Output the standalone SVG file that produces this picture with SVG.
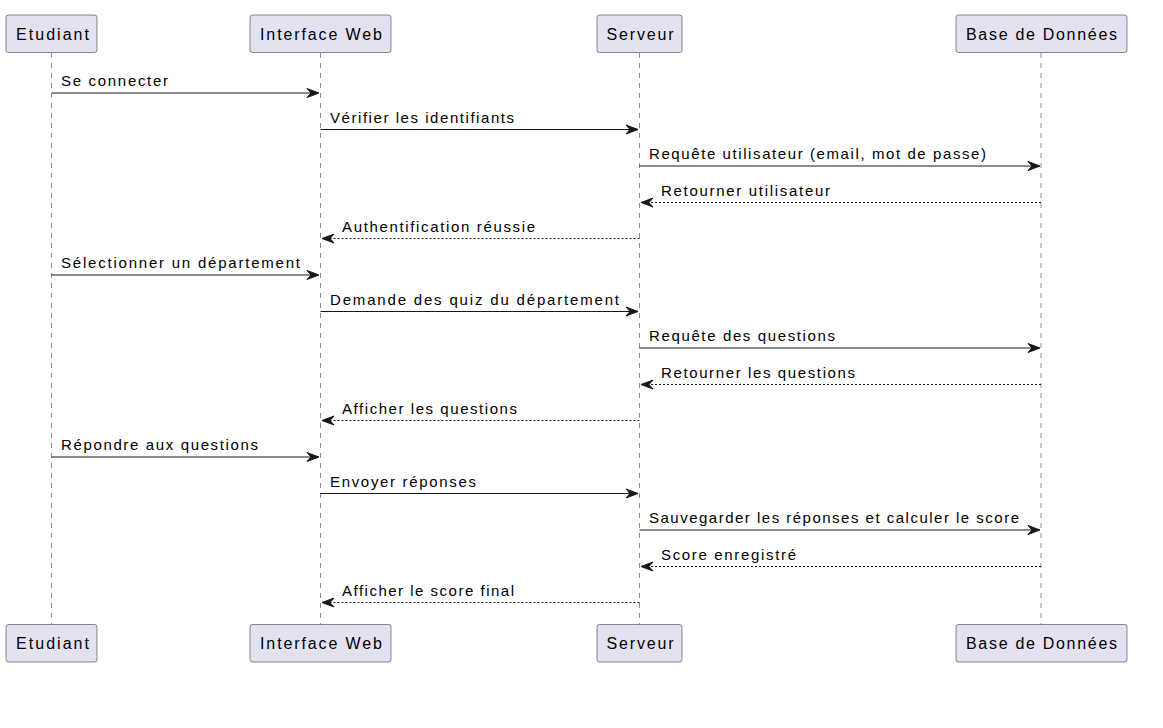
<svg xmlns="http://www.w3.org/2000/svg" width="1163" height="728" viewBox="0 0 1163 728">
<style>
.bg{fill:#FFFFFF}
.life{stroke:#181818;stroke-width:0.5;stroke-dasharray:5,5;fill:none}
.pbox{fill:#E2E2F0;stroke:#181818;stroke-width:0.5}
.ptxt{font-family:"Liberation Sans",Arial,sans-serif;font-size:16px;fill:#000000}
.msg{stroke:#181818;stroke-width:1.2;fill:none}
.ret{stroke:#181818;stroke-width:1.2;stroke-dasharray:2,2;fill:none}
.head{fill:#181818;stroke:#181818;stroke-width:1}
.mtxt{font-family:"Liberation Sans",Arial,sans-serif;font-size:15px;fill:#000000}
</style>
<rect class="bg" x="0" y="0" width="1163" height="728"/>
<g id="lifelines">
<line class="life" x1="51.5" y1="53" x2="51.5" y2="625"/>
<line class="life" x1="320.5" y1="53" x2="320.5" y2="625"/>
<line class="life" x1="639.5" y1="53" x2="639.5" y2="625"/>
<line class="life" x1="1041" y1="53" x2="1041" y2="625"/>
</g>
<g id="etudiant">
<rect class="pbox" x="6" y="15" width="91" height="37.5" rx="2.5"/>
<text class="ptxt" x="16" y="39.5" textLength="73" lengthAdjust="spacing">Etudiant</text>
<rect class="pbox" x="6" y="624.5" width="91" height="37.5" rx="2.5"/>
<text class="ptxt" x="16" y="649" textLength="73" lengthAdjust="spacing">Etudiant</text>
</g>
<g id="interface">
<rect class="pbox" x="250" y="15" width="141" height="37.5" rx="2.5"/>
<text class="ptxt" x="260" y="39.5" textLength="122" lengthAdjust="spacing">Interface Web</text>
<rect class="pbox" x="250" y="624.5" width="141" height="37.5" rx="2.5"/>
<text class="ptxt" x="260" y="649" textLength="122" lengthAdjust="spacing">Interface Web</text>
</g>
<g id="serveur">
<rect class="pbox" x="597" y="15" width="85" height="37.5" rx="2.5"/>
<text class="ptxt" x="606.5" y="39.5" textLength="67" lengthAdjust="spacing">Serveur</text>
<rect class="pbox" x="597" y="624.5" width="85" height="37.5" rx="2.5"/>
<text class="ptxt" x="606.5" y="649" textLength="67" lengthAdjust="spacing">Serveur</text>
</g>
<g id="bdd">
<rect class="pbox" x="956" y="15" width="171" height="37.5" rx="2.5"/>
<text class="ptxt" x="966" y="39.5" textLength="151" lengthAdjust="spacing">Base de Données</text>
<rect class="pbox" x="956" y="624.5" width="171" height="37.5" rx="2.5"/>
<text class="ptxt" x="966" y="649" textLength="151" lengthAdjust="spacing">Base de Données</text>
</g>
<g id="connectors">
<line class="msg" x1="51.5" y1="93" x2="316" y2="93"/>
<polygon class="head" points="307,88.5 319,93 307,97.5 311,93"/>
<text class="mtxt" x="61" y="86" textLength="107" lengthAdjust="spacing">Se connecter</text>
<line class="msg" x1="320.5" y1="129.5" x2="635" y2="129.5"/>
<polygon class="head" points="626,125 638,129.5 626,134 630,129.5"/>
<text class="mtxt" x="330" y="122.5" textLength="184" lengthAdjust="spacing">Vérifier les identifiants</text>
<line class="msg" x1="639.5" y1="166" x2="1037" y2="166"/>
<polygon class="head" points="1028,161.5 1040,166 1028,170.5 1032,166"/>
<text class="mtxt" x="649" y="159" textLength="337" lengthAdjust="spacing">Requête utilisateur (email, mot de passe)</text>
<line class="ret" x1="1041" y1="202.5" x2="644" y2="202.5"/>
<polygon class="head" points="653,198 641,202.5 653,207 649,202.5"/>
<text class="mtxt" x="661" y="195.5" textLength="169" lengthAdjust="spacing">Retourner utilisateur</text>
<line class="ret" x1="639.5" y1="238.5" x2="325" y2="238.5"/>
<polygon class="head" points="334,234 322,238.5 334,243 330,238.5"/>
<text class="mtxt" x="342" y="231.5" textLength="193" lengthAdjust="spacing">Authentification réussie</text>
<line class="msg" x1="51.5" y1="275" x2="316" y2="275"/>
<polygon class="head" points="307,270.5 319,275 307,279.5 311,275"/>
<text class="mtxt" x="61" y="268" textLength="239" lengthAdjust="spacing">Sélectionner un département</text>
<line class="msg" x1="320.5" y1="311.5" x2="635" y2="311.5"/>
<polygon class="head" points="626,307 638,311.5 626,316 630,311.5"/>
<text class="mtxt" x="330" y="304.5" textLength="289" lengthAdjust="spacing">Demande des quiz du département</text>
<line class="msg" x1="639.5" y1="348" x2="1037" y2="348"/>
<polygon class="head" points="1028,343.5 1040,348 1028,352.5 1032,348"/>
<text class="mtxt" x="649" y="341" textLength="186" lengthAdjust="spacing">Requête des questions</text>
<line class="ret" x1="1041" y1="384.5" x2="644" y2="384.5"/>
<polygon class="head" points="653,380 641,384.5 653,389 649,384.5"/>
<text class="mtxt" x="661" y="377.5" textLength="194" lengthAdjust="spacing">Retourner les questions</text>
<line class="ret" x1="639.5" y1="420.5" x2="325" y2="420.5"/>
<polygon class="head" points="334,416 322,420.5 334,425 330,420.5"/>
<text class="mtxt" x="342" y="413.5" textLength="175" lengthAdjust="spacing">Afficher les questions</text>
<line class="msg" x1="51.5" y1="457" x2="316" y2="457"/>
<polygon class="head" points="307,452.5 319,457 307,461.5 311,457"/>
<text class="mtxt" x="61" y="450" textLength="197" lengthAdjust="spacing">Répondre aux questions</text>
<line class="msg" x1="320.5" y1="493.5" x2="635" y2="493.5"/>
<polygon class="head" points="626,489 638,493.5 626,498 630,493.5"/>
<text class="mtxt" x="330" y="486.5" textLength="146" lengthAdjust="spacing">Envoyer réponses</text>
<line class="msg" x1="639.5" y1="530" x2="1037" y2="530"/>
<polygon class="head" points="1028,525.5 1040,530 1028,534.5 1032,530"/>
<text class="mtxt" x="649" y="523" textLength="370" lengthAdjust="spacing">Sauvegarder les réponses et calculer le score</text>
<line class="ret" x1="1041" y1="566.5" x2="644" y2="566.5"/>
<polygon class="head" points="653,562 641,566.5 653,571 649,566.5"/>
<text class="mtxt" x="661" y="559.5" textLength="135" lengthAdjust="spacing">Score enregistré</text>
<line class="ret" x1="639.5" y1="602.5" x2="325" y2="602.5"/>
<polygon class="head" points="334,598 322,602.5 334,607 330,602.5"/>
<text class="mtxt" x="342" y="595.5" textLength="172" lengthAdjust="spacing">Afficher le score final</text>
</g>
</svg>
